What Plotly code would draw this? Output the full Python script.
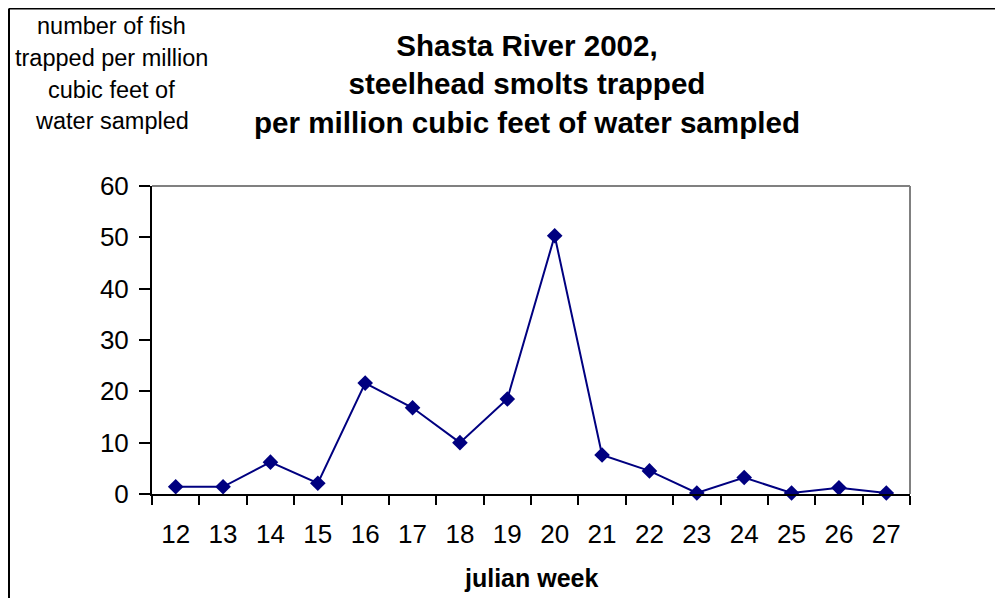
import plotly.graph_objects as go

weeks = ["12", "13", "14", "15", "16", "17", "18", "19", "20", "21", "22", "23", "24", "25", "26", "27"]
fish_per_mcf = [1.4, 1.4, 6.2, 2.1, 21.6, 16.8, 10.0, 18.5, 50.3, 7.6, 4.5, 0.2, 3.2, 0.2, 1.2, 0.2]
y_ticks = [0, 10, 20, 30, 40, 50, 60]
y_title_lines = ["number of fish", "trapped per million", "cubic feet of", "water sampled"]

# page body has an 8px margin; figure coordinates are offset by it
OFF = 8
W, H = 1003 - OFF, 598 - OFF
L, R, T, B = 152 - OFF, 910 - OFF, 186 - OFF, 494 - OFF

fig = go.Figure()
fig.add_trace(go.Scatter(
    x=weeks, y=fish_per_mcf, mode="lines+markers",
    line=dict(color="#000080", width=2),
    marker=dict(symbol="diamond", size=12, color="#000080"),
    cliponaxis=False, showlegend=False,
))

def dx(px):
    return (px - OFF - L) / (R - L)

def dy(py):
    return (B - (py - OFF)) / (B - T)

annotations = [
    dict(xref="paper", yref="paper", x=dx(527), y=dy(84),
         xanchor="center", yanchor="middle",
         text="<b>Shasta River 2002,<br>steelhead smolts trapped<br>per million cubic feet of water sampled</b>",
         showarrow=False, font=dict(size=29.6), align="center"),
    dict(xref="paper", yref="paper", x=dx(531), y=dy(578),
         xanchor="center", yanchor="middle",
         text="<b>julian week</b>", showarrow=False, font=dict(size=25)),
]
for line_text, ypx in zip(y_title_lines, [25.5, 57.5, 89.5, 121.5]):
    annotations.append(dict(xref="paper", yref="paper", x=dx(111.5), y=dy(ypx),
                            xanchor="center", yanchor="middle", text=line_text,
                            showarrow=False, font=dict(size=23.5)))

fig.update_layout(
    width=W, height=H,
    margin=dict(l=L, r=W - R, t=T, b=H - B, pad=0),
    paper_bgcolor="white", plot_bgcolor="white",
    font=dict(family="Liberation Sans, Arial, sans-serif", color="black"),
    xaxis=dict(
        type="category", range=[-0.5, len(weeks) - 0.5], tickson="boundaries",
        ticks="outside", ticklen=9,
        tickwidth=2, tickcolor="black", showline=True, linecolor="black", linewidth=2,
        showgrid=False, tickfont=dict(size=26), ticklabelstandoff=16,
        zeroline=False,
    ),
    yaxis=dict(
        range=[0, 60], tickvals=y_ticks, ticks="outside", ticklen=11, tickwidth=2,
        tickcolor="black", showline=True, linecolor="black", linewidth=2,
        showgrid=False, zeroline=False, tickfont=dict(size=26), ticklabelstandoff=5,
    ),
    shapes=[
        dict(type="line", xref="x domain", yref="y domain", x0=0, x1=1, y0=1, y1=1,
             line=dict(color="#808080", width=2)),
        dict(type="line", xref="x domain", yref="y domain", x0=1, x1=1, y0=0, y1=1,
             line=dict(color="#808080", width=2)),
        dict(type="line", xref="x domain", yref="y domain", x0=dx(9), x1=dx(1010), y0=dy(8.5), y1=dy(8.5),
             line=dict(color="black", width=2)),
        dict(type="line", xref="x domain", yref="y domain", x0=dx(9), x1=dx(9), y0=dy(8.5), y1=dy(610),
             line=dict(color="black", width=2)),
    ],
    annotations=annotations,
)

fig.write_html("out.html")
